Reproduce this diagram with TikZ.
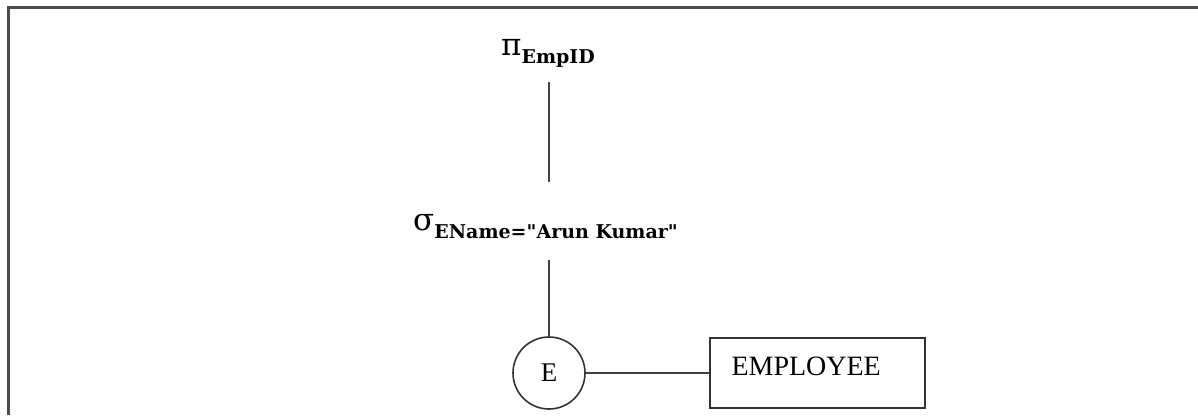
\documentclass[tikz,border=0pt]{standalone}
\usepackage{fontspec}
\setmainfont{Liberation Serif}
\newfontfamily\opfont{DejaVu Serif}
\newfontfamily\subfont{DejaVu Serif Bold}
\usepackage{tikz}

% relational operator with a bold lowered subscript
\newcommand{\relop}[2]{{\fontsize{31}{31}\opfont #1}\raisebox{-8pt}{\fontsize{19}{19}\subfont #2}}

\begin{document}
\begin{tikzpicture}[x=1pt,y=-1pt,
  every node/.style={inner sep=0pt},
  link/.style={line width=1.6pt, color=black!75},
  relbox/.style={draw=black!80, line width=1.7pt, minimum width=215, minimum height=70}]
\useasboundingbox (0,0) rectangle (1198,415);
% frame, only top and left edge
\draw[line width=2.6pt, color=black!70] (8.5,415) -- (8.5,7.5) -- (1198,7.5);

\node[anchor=base west] (proj) at (501,55) {\relop{π}{EmpID}};
\node[anchor=base west] (sel) at (413,230) {\relop{σ}{EName="Arun Kumar"}};
\node[circle, draw=black!80, line width=1.6pt, minimum size=72, font=\fontsize{27}{27}\selectfont] (emp) at (549,373) {E};
\node[relbox, text width=172, align=left, text height=20, text depth=16, font=\fontsize{28}{28}\selectfont] (tab) at (817.5,373) {EMPLOYEE};

\draw[link, shorten <=15pt, shorten >=32pt] (proj.south -| emp) -- (sel.north -| emp);
\draw[link, shorten <=22pt] (sel.south -| emp) -- (emp.north);
\draw[link] (emp) -- (tab);
\end{tikzpicture}
\end{document}
